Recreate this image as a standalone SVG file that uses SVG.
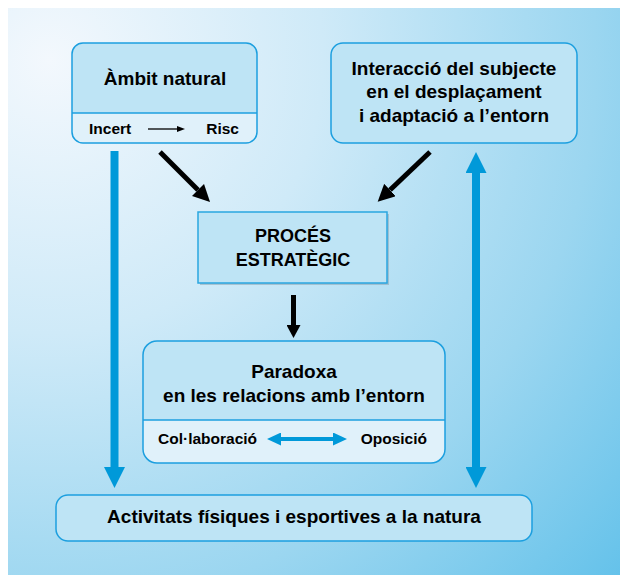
<svg xmlns="http://www.w3.org/2000/svg" width="620" height="575" viewBox="0 0 620 575">
<defs>
<radialGradient id="bg" gradientUnits="userSpaceOnUse" cx="50" cy="60" r="780">
<stop offset="0" stop-color="#f3f8fd"/>
<stop offset="0.35" stop-color="#cfeaf8"/>
<stop offset="0.7" stop-color="#9bd6f0"/>
<stop offset="1" stop-color="#62c1ea"/>
</radialGradient>
<marker id="bh" viewBox="0 0 21 21" markerWidth="21" markerHeight="21" refX="0" refY="10.5" orient="auto-start-reverse" markerUnits="userSpaceOnUse"><path d="M0,0 L21,10.5 L0,21 z" fill="#0099d9"/></marker>
<marker id="bs" viewBox="0 0 14 13" markerWidth="14" markerHeight="13" refX="0" refY="6.5" orient="auto-start-reverse" markerUnits="userSpaceOnUse"><path d="M0,0 L14,6.5 L0,13 z" fill="#0099d9"/></marker>
<marker id="kh" viewBox="0 0 17 17" markerWidth="17" markerHeight="17" refX="0" refY="8.5" orient="auto" markerUnits="userSpaceOnUse"><path d="M0,0 L17,8.5 L0,17 z" fill="#000"/></marker>
<marker id="kd" viewBox="0 0 13 14" markerWidth="13" markerHeight="14" refX="0" refY="7" orient="auto" markerUnits="userSpaceOnUse"><path d="M0,0 L13,7 L0,14 z" fill="#000"/></marker>
<marker id="ks" viewBox="0 0 8 6" markerWidth="8" markerHeight="6" refX="0" refY="3" orient="auto" markerUnits="userSpaceOnUse"><path d="M0,0 L8,3 L0,6 z" fill="#000"/></marker>
</defs>
<style>
.t{font-family:"Liberation Sans",Arial,sans-serif;font-weight:bold;fill:#000;}
.big{font-size:19px;text-anchor:middle;}
.cap{font-size:18px;text-anchor:middle;}
.sm{font-size:15.5px;}
.box{stroke:#1c9fdf;stroke-width:1.5;}
.up{fill:#bee4f5;}
.low{fill:#e0f1fa;}
.div{stroke:#1c9fdf;stroke-width:1.5;}
.blue{stroke:#0099d9;fill:none;}
.black{stroke:#000;fill:none;}
</style>
<rect x="8" y="8" width="612" height="567" fill="url(#bg)"/>

<g id="ambit">
<rect x="72" y="43" width="185" height="100" rx="11" class="low"/>
<path d="M72,113 V54 A11,11 0 0 1 83,43 H246 A11,11 0 0 1 257,54 V113 Z" class="up"/>
<line x1="72" y1="113" x2="257" y2="113" class="div"/>
<rect x="72" y="43" width="185" height="100" rx="11" fill="none" class="box"/>
<text x="165" y="85" class="t big">Àmbit natural</text>
<text x="89" y="134" class="t sm" font-size="16">Incert</text>
<text x="239" y="134" class="t sm" text-anchor="end">Risc</text>
<line x1="148" y1="129" x2="177" y2="129" stroke="#000" stroke-width="1.3" marker-end="url(#ks)"/>
</g>

<g id="interaccio">
<rect x="331" y="43" width="246" height="100" rx="12" class="up box"/>
<text x="454" y="75" class="t big">Interacció del subjecte</text>
<text x="454" y="98" class="t big">en el desplaçament</text>
<text x="454" y="122" class="t big">i adaptació a l’entorn</text>
</g>

<g id="proces">
<rect x="200" y="214" width="189" height="71" fill="#8fa9b8" opacity="0.6"/>
<rect x="198" y="212" width="189" height="71" class="up" stroke="#2aa6e0" stroke-width="1.5"/>
<text x="293" y="242" class="t cap">PROCÉS</text>
<text x="293" y="266" class="t cap">ESTRATÈGIC</text>
</g>

<g id="paradoxa">
<rect x="143" y="341" width="302" height="122" rx="14" class="low"/>
<path d="M143,420 V355 A14,14 0 0 1 157,341 H431 A14,14 0 0 1 445,355 V420 Z" class="up"/>
<line x1="143" y1="420" x2="445" y2="420" class="div"/>
<rect x="143" y="341" width="302" height="122" rx="14" fill="none" class="box"/>
<text x="294" y="378" class="t big">Paradoxa</text>
<text x="294" y="402" class="t big">en les relacions amb l’entorn</text>
<text x="158" y="444" class="t sm">Col·laboració</text>
<text x="427" y="444" class="t sm" text-anchor="end">Oposició</text>
<line x1="281" y1="439" x2="333" y2="439" class="blue" stroke-width="4" marker-start="url(#bs)" marker-end="url(#bs)"/>
</g>

<g id="activitats">
<rect x="56" y="495" width="476" height="46" rx="12" class="up box"/>
<text x="294" y="523" class="t big">Activitats físiques i esportives a la natura</text>
</g>

<g id="connectors">
<line x1="114.5" y1="151" x2="114.5" y2="467" class="blue" stroke-width="8" marker-end="url(#bh)"/>
<line x1="476" y1="173" x2="476" y2="467" class="blue" stroke-width="8" marker-start="url(#bh)" marker-end="url(#bh)"/>
<line x1="160" y1="152" x2="198" y2="190" class="black" stroke-width="5" marker-end="url(#kh)"/>
<line x1="430" y1="152" x2="390" y2="190" class="black" stroke-width="5" marker-end="url(#kh)"/>
<line x1="293.5" y1="295" x2="293.5" y2="325" class="black" stroke-width="5" marker-end="url(#kd)"/>
</g>
</svg>
